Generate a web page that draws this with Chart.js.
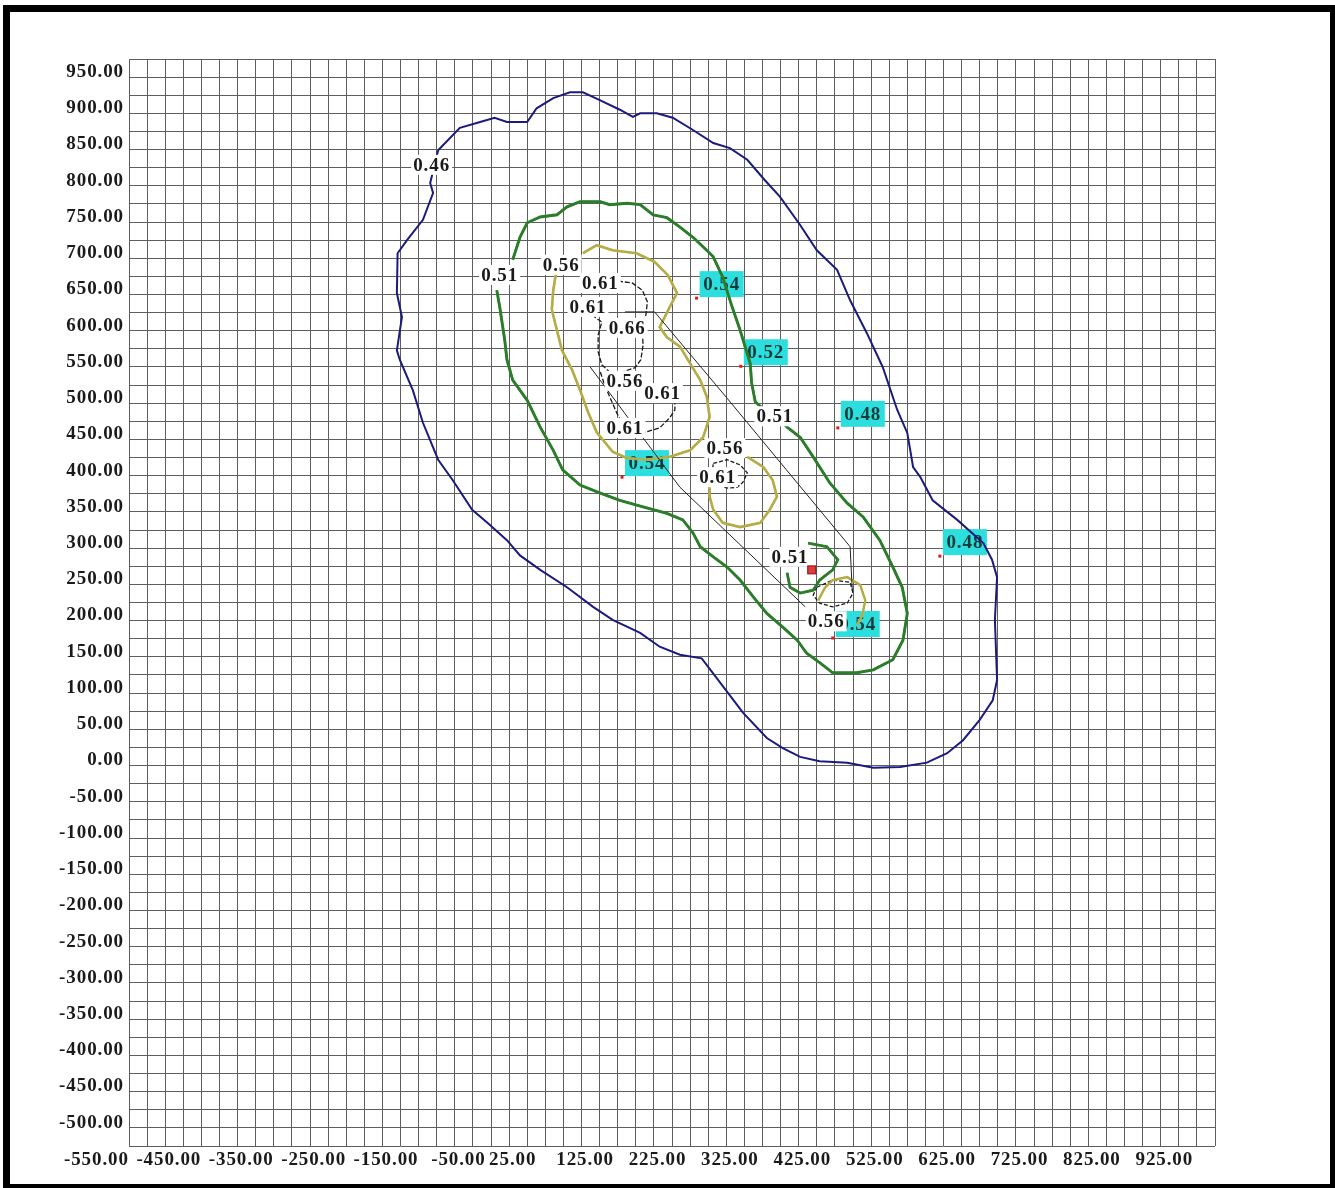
<!DOCTYPE html>
<html>
<head>
<meta charset="utf-8">
<script src="https://cdn.jsdelivr.net/npm/chart.js@4/dist/chart.umd.min.js"></script>
<style>
html, body { margin: 0; padding: 0; background: #fff; overflow: hidden; }
#wrap { position: relative; width: 1335px; height: 1188px; }
#frame { position: absolute; left: 3px; top: 5px; width: 1334px; height: 1186px; border: 7px solid #000; box-sizing: border-box; pointer-events: none; }
canvas { position: absolute; left: 0; top: 0; }
</style>
</head>
<body>
<div id="wrap">
  <canvas id="c" width="1335" height="1188"></canvas>
  <div id="frame"></div>
</div>
<script>
// Axis extents and grid spacing (plan coordinates)
const X_MIN = -505, X_MAX = 995;
const Y_MIN = -532, Y_MAX = 968;
const GRID_STEP = 25;

// Tick labels along each axis
const xTickLabels = [-550, -450, -350, -250, -150, -50, 25, 125, 225, 325, 425, 525, 625, 725, 825, 925];
const yTickLabels = [950, 900, 850, 800, 750, 700, 650, 600, 550, 500, 450, 400, 350, 300, 250, 200, 150, 100, 50, 0,
  -50, -100, -150, -200, -250, -300, -350, -400, -450, -500];

// Isoline 0.46 (outer)
const iso046 = [[-78,842],[-48,873],[-20,881],[0,887],[17,881],[45,881],[58,900],[81,914],[104,922],[122,922],[146,911],
  [173,898],[191,888],[201,893],[224,893],[246,887],[274,870],[302,852],[325,845],[349,829],[373,801],[394,778],[422,739],
  [445,704],[473,677],[491,635],[514,590],[536,543],[556,484],[570,452],[578,405],[588,391],[605,359],[639,332],[675,300],
  [687,277],[694,253],[691,194],[694,111],[688,83],[670,56],[647,28],[625,10],[597,-3],[560,-9],[523,-10],[487,-3],[449,-1],
  [422,5],[398,17],[376,31],[343,66],[311,108],[286,141],[256,146],[228,157],[201,176],[163,194],[136,212],[100,239],
  [63,263],[35,283],[17,304],[-10,328],[-31,346],[-58,387],[-78,415],[-99,466],[-113,511],[-131,553],[-135,566],[-128,612],
  [-135,645],[-134,700],[-121,718],[-99,746],[-85,783],[-89,797],[-78,842]];

// Isoline 0.51
const iso051 = [[25,691],[35,722],[45,742],[63,750],[86,753],[100,764],[118,771],[146,771],[159,767],[183,769],[201,767],
  [219,753],[238,749],[256,736],[274,722],[293,704],[302,695],[315,667],[328,626],[339,594],[353,548],[355,521],[360,495],
  [380,477],[394,470],[404,460],[422,446],[440,419],[463,383],[487,355],[509,336],[532,304],[550,267],[563,239],[570,203],
  [564,166],[550,139],[523,125],[500,121],[467,121],[449,135],[431,148],[418,166],[398,184],[376,203],[357,226],[339,249],
  [321,267],[302,281],[284,295],[274,314],[260,332],[238,341],[205,350],[173,359],[146,369],[118,380],[94,401],[81,428],
  [63,460],[45,497],[25,525],[17,553],[14,580],[7,626],[3,649]];
const iso051b = [[433,300],[459,295],[474,277],[467,263],[449,249],[440,235],[422,231],[408,239],[404,259]];

// Isoline 0.56
const iso056 = [[122,700],[141,711],[163,704],[196,700],[221,688],[239,670],[252,645],[242,626],[228,598],[238,584],
  [256,571],[270,548],[284,525],[293,502],[297,474],[288,446],[270,428],[242,419],[210,415],[183,417],[163,426],[141,453],
  [129,481],[118,511],[107,539],[93,566],[86,594],[79,622],[81,649],[85,674]];
const iso056b = [[349,419],[371,405],[384,387],[390,364],[380,346],[367,328],[339,322],[315,328],[302,346],[297,364],[297,377]];
const iso056c = [[447,221],[456,238],[467,249],[487,253],[505,242],[512,221],[508,201],[501,187]];

// Isolines 0.61 / 0.66 (inner)
const iso061a = [[122,660],[166,662],[190,659],[204,649],[211,633],[209,615],[204,597],[205,573],[202,553],[194,542],
  [176,536],[159,536],[148,546],[143,564],[143,587],[148,605],[137,613]];
const iso061b = [[146,536],[152,518],[161,497],[169,479],[180,459],[208,453],[228,459],[242,473],[249,484],[249,500]];
const iso061c = [[302,410],[321,415],[339,408],[349,397],[343,384],[335,377],[321,376],[307,380],[300,391],[302,410]];
const iso056d = [[445,239],[467,249],[491,246],[495,231],[487,217],[467,212],[449,217],[440,228],[445,239]];

// Outline of the workings
const outlineA = [[180,619],[221,619],[321,500],[491,295],[494,235]];
const outlineB = [[132,543],[256,377],[429,212]];

// Sample points with measured values
const sampleValues = ['0.54', '0.52', '0.48', '0.48', '0.54', '0.54'];
const sampleX = [279, 340, 474, 615, 176, 467];
const sampleY = [638, 544, 459, 282, 391, 169];

// Isoline value labels
const isoLabels = ['0.46','0.51','0.56','0.61','0.61','0.66','0.56','0.61','0.61','0.56','0.61','0.51','0.51','0.56'];
const isoLabelX = [-87, 7, 92, 146, 129, 183, 180, 232, 180, 318, 308, 387, 408, 458];
const isoLabelY = [822, 670, 684, 659, 626, 597, 524, 507, 459, 431, 391, 475, 281, 192];

// Borehole marker
const boreholeX = [438];
const boreholeY = [263];

const FONT = "'Liberation Serif', 'Times New Roman', serif";

function gridValues(min, max) {
  const out = [];
  for (let v = min; v <= max + 1e-9; v += GRID_STEP) out.push(v);
  return out;
}
const xGrid = gridValues(X_MIN, X_MAX);
const yGrid = gridValues(Y_MIN, Y_MAX);
const xGridSet = new Set(xGrid), yGridSet = new Set(yGrid);
const xLabelSet = new Set(xTickLabels), yLabelSet = new Set(yTickLabels);

function buildTicks(grid, labels) {
  return scale => {
    scale.ticks = [...new Set([...grid, ...labels])].sort((a, b) => a - b).map(v => ({ value: v }));
  };
}

function line(points, color, width, dash) {
  return {
    data: points.map(([x, y]) => ({ x, y })),
    showLine: true,
    borderColor: color,
    borderWidth: width,
    borderDash: dash || [],
    pointRadius: 0,
    fill: false,
    tension: 0
  };
}

// Slightly spaced lettering for all chart text
const letterSpacing = {
  id: 'letterSpacing',
  beforeDraw(chart) { if ('letterSpacing' in chart.ctx) chart.ctx.letterSpacing = '0.9px'; },
  afterDraw(chart) { if ('letterSpacing' in chart.ctx) chart.ctx.letterSpacing = '0px'; }
};

// Cyan value boxes at sample points (under the isolines)
const sampleBoxes = {
  id: 'sampleBoxes',
  beforeDatasetsDraw(chart) {
    const { ctx, scales: { x, y } } = chart;
    ctx.save();
    ctx.font = 'bold 19px ' + FONT;
    ctx.textAlign = 'center';
    ctx.textBaseline = 'middle';
    sampleValues.forEach((t, i) => {
      const px = x.getPixelForValue(sampleX[i]);
      const py = y.getPixelForValue(sampleY[i]);
      ctx.fillStyle = '#2ddede';
      ctx.fillRect(px + 3, py - 27, 44, 26);
      ctx.fillStyle = '#163a3a';
      ctx.fillText(t, px + 25, py - 13);
      ctx.fillStyle = '#e01818';
      ctx.fillRect(px - 1.5, py - 1.5, 3, 3);
    });
    ctx.restore();
  }
};

// Isoline value labels on white, plus borehole marker
const isoText = {
  id: 'isoText',
  afterDatasetsDraw(chart) {
    const { ctx, scales: { x, y } } = chart;
    ctx.save();
    ctx.font = 'bold 19px ' + FONT;
    ctx.textAlign = 'center';
    ctx.textBaseline = 'middle';
    isoLabels.forEach((t, i) => {
      const px = x.getPixelForValue(isoLabelX[i]);
      const py = y.getPixelForValue(isoLabelY[i]);
      const w = ctx.measureText(t).width + 4;
      ctx.fillStyle = '#fff';
      ctx.fillRect(px - w / 2, py - 10, w, 20);
      ctx.fillStyle = '#1a1a1a';
      ctx.fillText(t, px, py + 1);
    });
    boreholeX.forEach((bx, i) => {
      const px = x.getPixelForValue(bx);
      const py = y.getPixelForValue(boreholeY[i]);
      ctx.fillStyle = '#e03a3a';
      ctx.fillRect(px - 4, py - 4, 8, 8);
      ctx.strokeStyle = '#8a1010';
      ctx.lineWidth = 1;
      ctx.strokeRect(px - 4, py - 4, 8, 8);
    });
    ctx.restore();
  }
};

const GREEN_EDGE = '#2c7c2c', GREEN = '#40d840';
const YELLOW_EDGE = '#b4ac4c', YELLOW = '#f2e62a';

new Chart(document.getElementById('c'), {
  type: 'scatter',
  data: {
    datasets: [
      line(outlineA, '#222', 1),
      line(outlineB, '#222', 1),
      line(iso046, '#1b1b7e', 2),
      line(iso051, GREEN_EDGE, 2.9),
      line(iso051, GREEN, 2.3),
      line(iso051b, GREEN_EDGE, 2.8),
      line(iso051b, GREEN, 2.2),
      line(iso056, YELLOW_EDGE, 2.6),
      line(iso056, YELLOW, 2.2),
      line(iso056b, YELLOW_EDGE, 2.6),
      line(iso056b, YELLOW, 2.2),
      line(iso056c, YELLOW_EDGE, 2.4),
      line(iso056c, YELLOW, 2),
      line(iso061a, '#1a1a1a', 1.3, [5, 2]),
      line(iso061b, '#1a1a1a', 1.3, [5, 2]),
      line(iso061c, '#1a1a1a', 1.3, [4, 2]),
      line(iso056d, '#1a1a1a', 1.3, [4, 2])
    ]
  },
  options: {
    responsive: false,
    animation: false,
    events: [],
    layout: { padding: { top: 59, right: 120, left: 0, bottom: 0 } },
    plugins: { legend: { display: false }, tooltip: { enabled: false } },
    scales: {
      x: {
        type: 'linear',
        min: X_MIN,
        max: X_MAX,
        afterBuildTicks: buildTicks(xGrid, xTickLabels),
        afterFit: s => { s.height = 42; },
        border: { display: false },
        grid: {
          drawTicks: false,
          color: c => (c.tick && xGridSet.has(c.tick.value)) ? '#5e5e5e' : 'rgba(0,0,0,0)',
          lineWidth: 1
        },
        ticks: {
          autoSkip: false,
          maxRotation: 0,
          minRotation: 0,
          padding: 3,
          color: '#1a1a1a',
          font: { family: FONT, size: 19, weight: 'bold' },
          callback: v => xLabelSet.has(v) ? v.toFixed(2) : ''
        }
      },
      y: {
        type: 'linear',
        min: Y_MIN,
        max: Y_MAX,
        afterBuildTicks: buildTicks(yGrid, yTickLabels),
        afterFit: s => { s.width = 129; },
        border: { display: false },
        grid: {
          drawTicks: false,
          color: c => (c.tick && yGridSet.has(c.tick.value)) ? '#5e5e5e' : 'rgba(0,0,0,0)',
          lineWidth: 1
        },
        ticks: {
          autoSkip: false,
          padding: 5,
          color: '#1a1a1a',
          font: { family: FONT, size: 19, weight: 'bold' },
          callback: v => yLabelSet.has(v) ? v.toFixed(2) : ''
        }
      }
    }
  },
  plugins: [letterSpacing, sampleBoxes, isoText]
});
</script>
</body>
</html>
